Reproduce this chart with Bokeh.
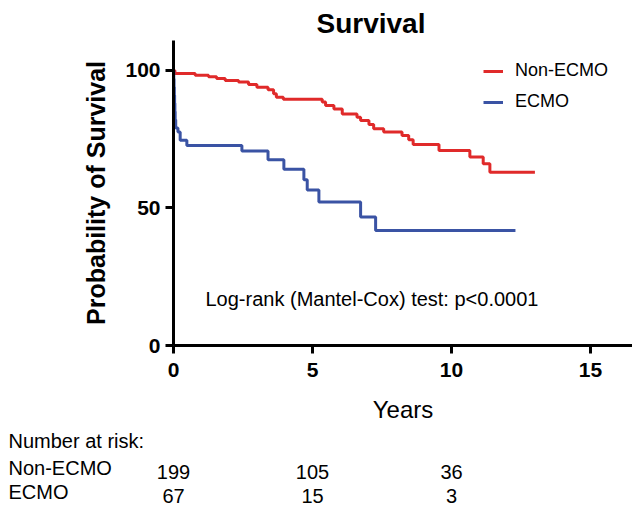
from bokeh.plotting import figure
from bokeh.models import Label, FixedTicker, Legend, LegendItem, Range1d
from bokeh.embed import file_html
from bokeh.resources import INLINE

# ---- data ----
red_time = [0, 0.05, 0.78, 1.26, 1.55, 1.86, 2.34, 2.70, 3.00, 3.40,
            3.60, 3.70, 3.95, 5.35, 5.47, 5.77, 6.07, 6.60, 6.73, 7.03,
            7.20, 7.56, 8.22, 8.46, 8.62, 9.55, 10.66, 11.14, 11.38, 13.0]
red_surv = [100, 98.9, 98.3, 97.7, 97.1, 96.4, 95.8, 94.9, 93.9, 93.0,
            91.5, 90.3, 89.5, 88.5, 87.3, 86.0, 84.2, 83.0, 81.8, 80.4,
            78.8, 77.6, 76.4, 74.8, 73.1, 70.9, 68.5, 66.1, 63.0, 63.0]

blue_time = [0, 0.01, 0.02, 0.03, 0.04, 0.05, 0.06, 0.08, 0.16, 0.24,
             0.48, 2.46, 3.40, 3.97, 4.69, 4.81, 5.23, 6.73, 7.27, 12.3]
blue_surv = [100, 97.0, 94.0, 91.0, 88.1, 85.1, 82.1, 79.1, 77.6, 74.6,
             72.7, 70.7, 67.5, 64.1, 60.3, 56.5, 52.2, 46.7, 41.8, 41.8]

series_names = ["Non-ECMO", "ECMO"]
x_ticks = [0, 5, 10, 15]
y_ticks = [0, 50, 100]
risk_times = [0, 5, 10]
risk_non_ecmo = [199, 105, 36]
risk_ecmo = [67, 15, 3]

title_text = "Survival"
x_label = "Years"
y_label = "Probability of Survival"
test_text = "Log-rank (Mantel-Cox) test: p<0.0001"
risk_title = "Number at risk:"

FONT = "Liberation Sans"
RED = "#E02A2A"
BLUE = "#3A53A4"

W = 632
H1 = 430
H2 = 78
LEFT = 173
TOP = 40
BOTTOM = 345
X_MAX = 16.51
Y_MAX = 110.9

p = figure(width=W, height=H1, x_range=Range1d(0, X_MAX), y_range=Range1d(0, Y_MAX),
           output_backend="svg", toolbar_location=None,
           min_border_left=LEFT, min_border_right=0,
           min_border_top=TOP, min_border_bottom=H1 - BOTTOM)
p.outline_line_color = None
p.xgrid.visible = False
p.ygrid.visible = False
p.background_fill_color = "white"
p.border_fill_color = "white"

p.title.text = title_text
p.title.align = "left"
p.title.offset = 143
p.title.standoff = 0
p.title.vertical_align = "top"
p.title.text_font = FONT
p.title.text_font_size = "28px"
p.title.text_font_style = "bold"
p.title.text_color = "black"

r_red = p.step(red_time, red_surv, mode="after", line_color=RED, line_width=3)
r_blue = p.step(blue_time, blue_surv, mode="after", line_color=BLUE, line_width=3)

p.xaxis.ticker = FixedTicker(ticks=x_ticks)
p.yaxis.ticker = FixedTicker(ticks=y_ticks)
for ax in (p.xaxis[0], p.yaxis[0]):
    ax.axis_line_width = 3
    ax.axis_line_color = "black"
    ax.major_tick_line_width = 3
    ax.major_tick_line_color = "black"
    ax.major_tick_out = 8
    ax.major_tick_in = 0
    ax.minor_tick_line_color = None
    ax.major_label_text_font = FONT
    ax.major_label_text_font_style = "bold"
    ax.major_label_text_font_size = "21px"
    ax.major_label_text_color = "black"
    ax.axis_label_text_font = FONT
    ax.axis_label_text_color = "black"

p.yaxis.major_label_standoff = 5
p.yaxis.axis_label = y_label
p.yaxis.axis_label_text_font_style = "bold"
p.yaxis.axis_label_text_font_size = "25px"
p.yaxis.axis_label_standoff = 12

p.xaxis.major_label_standoff = 9
p.xaxis.axis_label = x_label
p.xaxis.axis_label_text_font_style = "normal"
p.xaxis.axis_label_text_font_size = "24px"
p.xaxis.axis_label_standoff = 16

legend = Legend(items=[LegendItem(label=series_names[0], renderers=[r_red]),
                       LegendItem(label=series_names[1], renderers=[r_blue])],
                location=(310, 233), padding=0, margin=0, spacing=10,
                glyph_width=20, glyph_height=20, label_height=20,
                label_standoff=12, border_line_color=None,
                background_fill_alpha=0,
                label_text_font=FONT, label_text_font_size="18px",
                label_text_color="black")
p.add_layout(legend)

p.add_layout(Label(x=32, y=47, x_units="screen", y_units="screen", text=test_text,
                   text_font=FONT, text_font_size="20px", text_align="left",
                   text_baseline="middle", text_color="black"))

# ---- number-at-risk table: separate root, same horizontal scale as the plot ----
px_per_year = (W - LEFT) / X_MAX
p2 = figure(width=W, height=H2,
            x_range=Range1d(-LEFT / px_per_year, X_MAX), y_range=Range1d(0, H2),
            output_backend="svg", toolbar_location=None,
            x_axis_location=None, y_axis_location=None,
            min_border_left=0, min_border_right=0, min_border_top=0, min_border_bottom=0)
p2.outline_line_color = None
p2.xgrid.visible = False
p2.ygrid.visible = False
p2.background_fill_color = "white"
p2.border_fill_color = "white"

def lab(fig, x, y, text, align="left", xu="screen"):
    fig.add_layout(Label(x=x, y=y, x_units=xu, y_units="screen", text=text,
                         text_font=FONT, text_font_size="20px",
                         text_align=align, text_baseline="middle",
                         text_color="black"))

lab(p2, 8, 68, risk_title)
lab(p2, 8, 41, series_names[0])
lab(p2, 8, 17, series_names[1])
for t, a, b in zip(risk_times, risk_non_ecmo, risk_ecmo):
    lab(p2, t, 37, str(a), align="center", xu="data")
    lab(p2, t, 13, str(b), align="center", xu="data")

open("out.html", "w").write(file_html([p, p2], INLINE))
